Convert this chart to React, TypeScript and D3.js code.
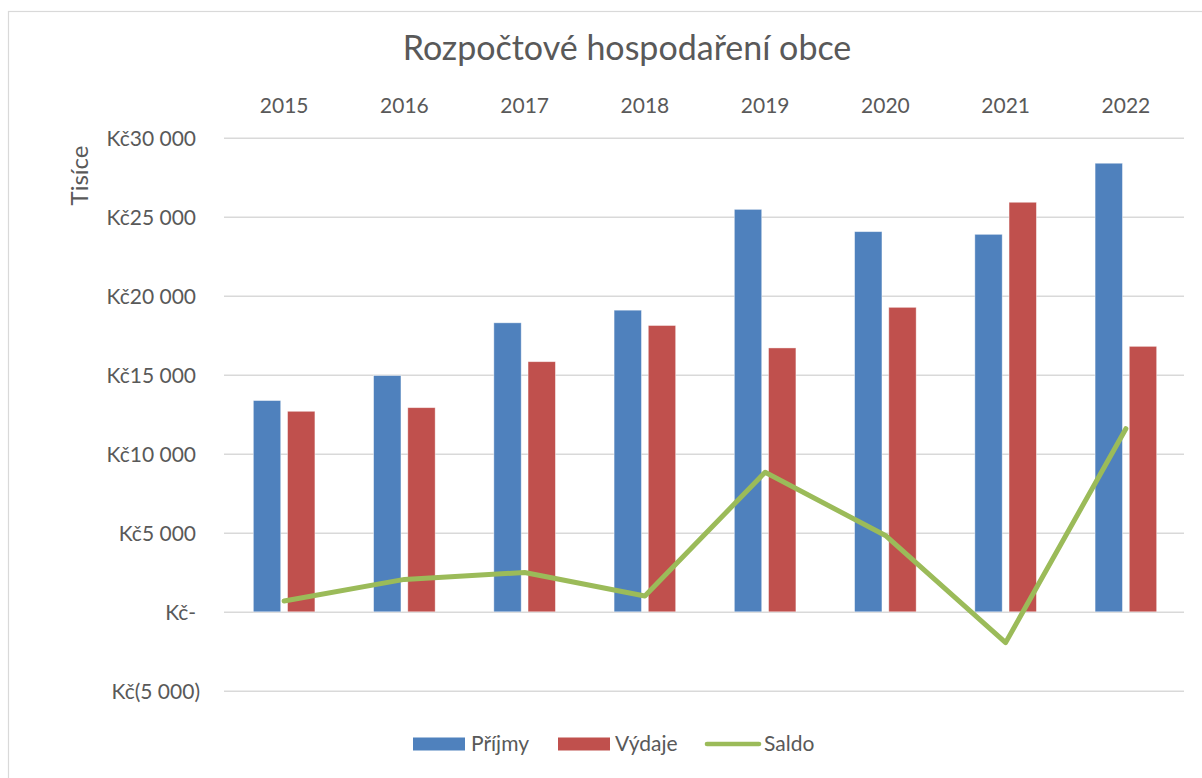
import { useRef, useEffect } from 'react';
import * as d3 from 'd3';

const years = ['2015', '2016', '2017', '2018', '2019', '2020', '2021', '2022'];
const prijmy = [13370, 14950, 18290, 19090, 25470, 24060, 23890, 28390];
const vydaje = [12690, 12920, 15830, 18120, 16700, 19270, 25920, 16800];
const saldo = [680, 2050, 2490, 1000, 8830, 4830, -1950, 11590];
const yTicks = [-5000, 0, 5000, 10000, 15000, 20000, 25000, 30000];

const TEXT = '#595959';
const GRID = '#D9D9D9';
const BLUE = '#4F81BD';
const RED = '#C0504D';
const GREEN = '#9BBB59';
const FONT = 'Lato, "Open Sans", sans-serif';

const fmtTick = (v: number) => {
  if (v === 0) return 'Kč-';
  const s = d3.format(',')(Math.abs(v)).replace(/,/g, ' ');
  return v < 0 ? `Kč(${s})` : `Kč${s}`;
};

export default function App() {
  const svgRef = useRef<SVGSVGElement>(null);

  useEffect(() => {
    if (!svgRef.current) return;
    const svg = d3.select(svgRef.current);
    svg.selectAll('*').remove();

    const left = 224;
    const right = 1186;

    // outer frame of the chart (right and bottom edges fall off the page)
    svg.append('rect')
      .attr('x', 8.5).attr('y', 11.5)
      .attr('width', 1220).attr('height', 800)
      .attr('fill', '#fff').attr('stroke', GRID).attr('stroke-width', 1.2);

    const x = d3.scaleBand<string>()
      .domain(years)
      .range([left, right])
      .paddingInner(0.488)
      .paddingOuter(0.244);

    const series = ['prijmy', 'vydaje'];
    const xs = d3.scaleBand<string>()
      .domain(series)
      .range([0, x.bandwidth()])
      .paddingInner(0.2);

    const y = d3.scaleLinear().domain([-5000, 30000]).range([690.8, 137.8]);

    // gridlines + y labels
    const yAxis = svg.append('g')
      .attr('transform', `translate(${left},0)`)
      .call(d3.axisLeft(y).tickValues(yTicks).tickSize(-(right - left - 2)).tickFormat((d) => fmtTick(+d)));
    yAxis.select('.domain').remove();
    yAxis.selectAll('.tick line').attr('stroke', GRID).attr('stroke-width', 1.5);
    yAxis.selectAll<SVGTextElement, number>('.tick text')
      .attr('x', (d) => (d < 0 ? -24 : -28))
      .attr('dy', '0.36em')
      .attr('fill', TEXT)
      .style('font-family', FONT)
      .style('font-size', '21px');

    // category labels on top
    const xAxis = svg.append('g')
      .attr('transform', 'translate(0,113)')
      .call(d3.axisTop(x).tickSize(0));
    xAxis.select('.domain').remove();
    xAxis.selectAll('.tick text')
      .attr('y', 0).attr('dy', 0)
      .attr('fill', TEXT)
      .style('font-family', FONT)
      .style('font-size', '21px');

    // bars
    const groups = svg.append('g')
      .selectAll('g')
      .data(years)
      .join('g')
      .attr('transform', (d) => `translate(${x(d)},0)`);

    groups.selectAll('rect')
      .data((_, i) => [
        { key: 'prijmy', value: prijmy[i], color: BLUE },
        { key: 'vydaje', value: vydaje[i], color: RED },
      ])
      .join('rect')
      .attr('x', (d) => xs(d.key) || 0)
      .attr('y', (d) => y(d.value))
      .attr('width', xs.bandwidth())
      .attr('height', (d) => y(0) - y(d.value))
      .attr('fill', (d) => d.color)
      .attr('stroke', '#fff')
      .attr('stroke-opacity', 0.5)
      .attr('stroke-width', 0.8);

    // saldo line
    const line = d3.line<number>()
      .x((_, i) => (x(years[i]) || 0) + x.bandwidth() / 2)
      .y((d) => y(d));

    svg.append('path')
      .datum(saldo)
      .attr('d', line)
      .attr('fill', 'none')
      .attr('stroke', GREEN)
      .attr('stroke-width', 5)
      .attr('stroke-linejoin', 'round')
      .attr('stroke-linecap', 'round');

    // title
    svg.append('text')
      .attr('x', 627).attr('y', 60)
      .attr('text-anchor', 'middle')
      .attr('fill', TEXT)
      .style('font-family', FONT)
      .style('font-size', '34px')
      .text('Rozpočtové hospodaření obce');

    // y axis title
    svg.append('text')
      .attr('transform', 'translate(88,175.5) rotate(-90)')
      .attr('text-anchor', 'middle')
      .attr('fill', TEXT)
      .style('font-family', FONT)
      .style('font-size', '24px')
      .text('Tisíce');

    // legend
    const lg = svg.append('g').style('font-family', FONT).style('font-size', '21px');
    lg.append('rect').attr('x', 413).attr('y', 737.5).attr('width', 52).attr('height', 13).attr('fill', BLUE);
    lg.append('text').attr('x', 471).attr('y', 751).attr('fill', TEXT).text('Příjmy');
    lg.append('rect').attr('x', 558).attr('y', 737.5).attr('width', 52).attr('height', 13).attr('fill', RED);
    lg.append('text').attr('x', 615).attr('y', 751).attr('fill', TEXT).text('Výdaje');
    lg.append('line').attr('x1', 707).attr('x2', 759).attr('y1', 744).attr('y2', 744)
      .attr('stroke', GREEN).attr('stroke-width', 4.6).attr('stroke-linecap', 'round');
    lg.append('text').attr('x', 764).attr('y', 751).attr('fill', TEXT).text('Saldo');
  }, []);

  return (
    <svg
      ref={svgRef}
      width={1202}
      height={778}
      style={{ position: 'absolute', left: 0, top: 0, display: 'block', background: '#fff' }}
    />
  );
}
